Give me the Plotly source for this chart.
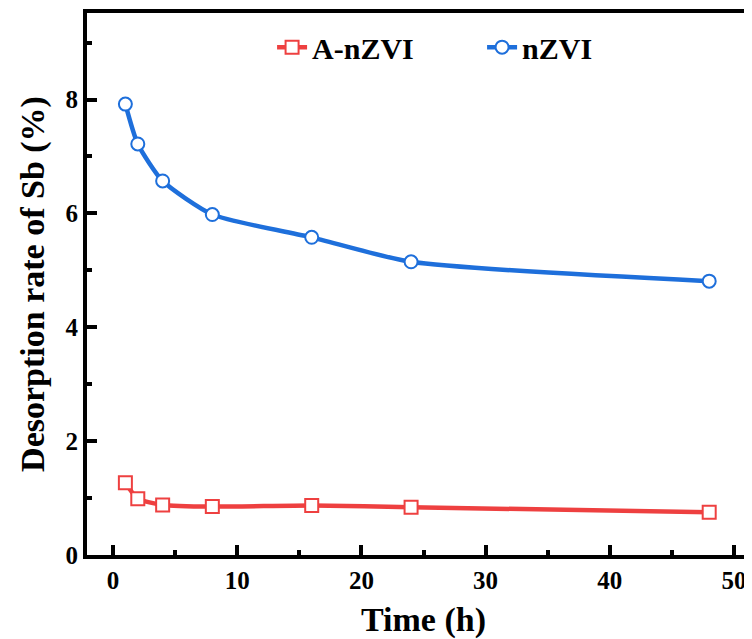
# desorption rate of Sb over time, A-nZVI vs nZVI

import plotly.graph_objects as go

time_h = [1, 2, 4, 8, 16, 24, 48]
a_nzvi = [1.27, 0.99, 0.88, 0.85, 0.87, 0.84, 0.75]
nzvi = [7.92, 7.22, 6.57, 5.98, 5.58, 5.15, 4.81]

red = "rgb(238,64,64)"
blue = "rgb(30,111,219)"
font = "Liberation Serif"

def series(y, name, color, symbol):
    return go.Scatter(x=time_h, y=y, name=name, mode="lines+markers",
                      line=dict(color=color, width=4.5, shape="spline", smoothing=0.6),
                      marker=dict(symbol=symbol, size=13, color="white",
                                  line=dict(color=color, width=2)))

fig = go.Figure(data=[series(a_nzvi, "A-nZVI", red, "square"),
                      series(nzvi, "nZVI", blue, "circle")])

axis_style = dict(showline=True, linecolor="black", linewidth=4,
                  ticks="inside", ticklen=10, tickwidth=4, tickcolor="black",
                  showgrid=False, zeroline=False,
                  tickfont=dict(family=font, size=25, color="black", weight="bold"))

fig.update_xaxes(range=[-2.09, 52.09], tickvals=[0, 10, 20, 30, 40, 50],
                 minor=dict(tickvals=[5, 15, 25, 35, 45], ticks="inside", ticklen=5,
                            tickwidth=4, tickcolor="black"),
                 mirror=True,
                 title=dict(text="Time (h)", standoff=15,
                            font=dict(family=font, size=34, color="black", weight="bold")),
                 **axis_style)
fig.update_yaxes(range=[0, 9.52], tickvals=[0, 2, 4, 6, 8],
                 minor=dict(tickvals=[1, 3, 5, 7, 9], ticks="inside", ticklen=5,
                            tickwidth=4, tickcolor="black"),
                 title=dict(text="Desorption rate of Sb (%)", standoff=12,
                            font=dict(family=font, size=34, color="black", weight="bold")),
                 **axis_style)

fig.update_layout(width=752, height=639,
                  margin=dict(l=79, r=0, t=5, b=92),
                  plot_bgcolor="white", paper_bgcolor="white",
                  legend=dict(orientation="h", x=0.275, y=0.985, xanchor="left", yanchor="top",
                              font=dict(family=font, size=30, color="black", weight="bold"),
                              bgcolor="rgba(0,0,0,0)", entrywidth=165, entrywidthmode="pixels"),
                  showlegend=True)

fig.write_html("out.html")
